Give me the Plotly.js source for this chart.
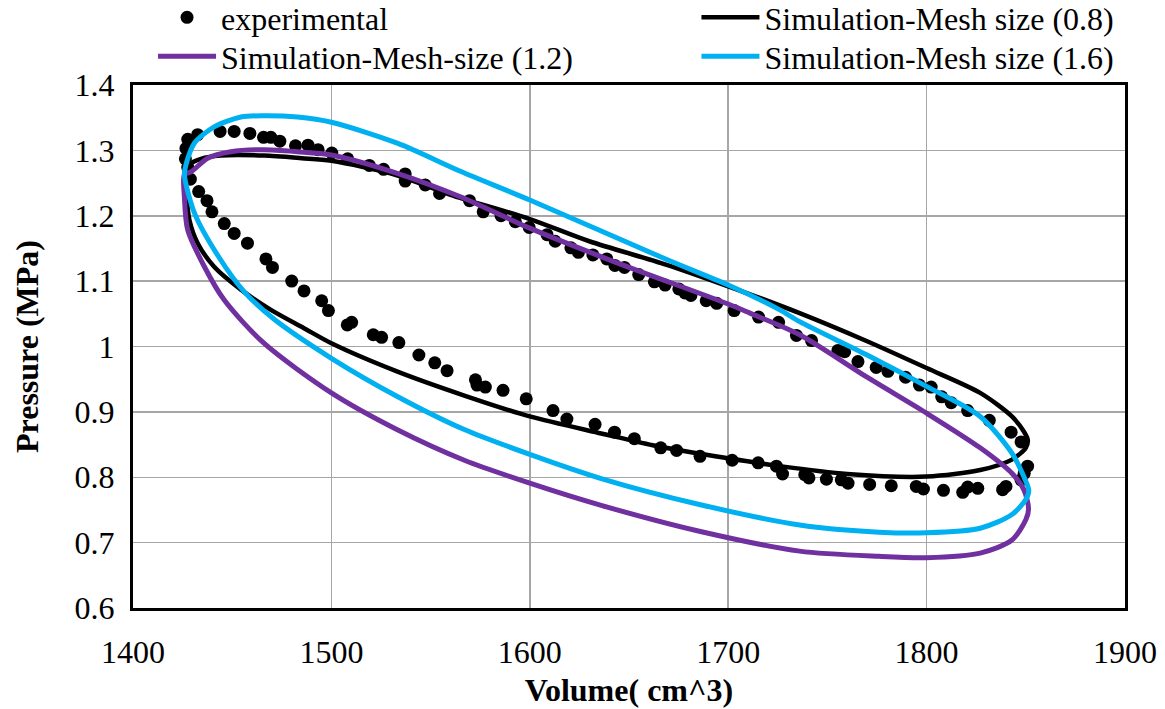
<!DOCTYPE html>
<html>
<head>
<meta charset="utf-8">
<script src="https://cdn.plot.ly/plotly-3.0.1.min.js"></script>
<style>
  html, body { margin: 0; padding: 0; background: #ffffff; }
  #chart { width: 1165px; height: 709px; }
</style>
</head>
<body>
<div id="chart"></div>
<script>
// P-V loop: measured pressure vs. three simulated mesh sizes

// Experimental points (volume cm^3, pressure MPa)
const expVolume = [
  1443.9, 1451.0, 1458.9, 1465.8, 1469.5, 1474.0, 1481.9, 1488.2, 1493.3, 1500.2,
  1508.2, 1519.1, 1526.3, 1537.2, 1537.2, 1547.3, 1554.5, 1569.6, 1576.5, 1585.5,
  1592.7, 1599.7, 1608.7, 1612.8, 1620.7, 1624.5, 1631.8, 1638.8, 1642.9, 1647.7,
  1654.9, 1662.8, 1668.2, 1675.1, 1678.2, 1681.2, 1688.9, 1694.2, 1703.0, 1715.3,
  1725.4, 1734.4, 1742.0, 1755.3, 1758.7, 1765.4, 1774.6, 1780.5, 1789.4, 1796.4,
  1802.3, 1807.6, 1812.4, 1820.7, 1831.6, 1842.6, 1847.6, 1850.9, 1849.2, 1847.6,
  1840.0, 1838.3, 1825.8, 1820.7, 1818.2, 1808.5, 1798.4, 1794.8, 1782.2, 1771.3,
  1760.4, 1757.0, 1749.5, 1740.7, 1738.6, 1727.4, 1724.3, 1715.1, 1702.0, 1685.8,
  1674.0, 1666.0, 1652.7, 1642.7, 1632.9, 1618.7, 1611.7, 1598.2, 1586.5, 1577.6,
  1573.4, 1572.6, 1558.3, 1552.1, 1544.1, 1534.0, 1525.3, 1521.1, 1510.2, 1508.0,
  1498.5, 1495.1, 1486.2, 1480.0, 1470.3, 1467.0, 1457.7, 1451.0, 1446.0, 1439.8,
  1437.3, 1433.1, 1428.9, 1427.6, 1426.4, 1426.7, 1427.6, 1432.6
];
const expPressure = [
  1.329, 1.329, 1.326, 1.320, 1.320, 1.314, 1.307, 1.308, 1.301, 1.296,
  1.287, 1.277, 1.271, 1.264, 1.253, 1.247, 1.234, 1.223, 1.206, 1.200,
  1.191, 1.182, 1.171, 1.161, 1.151, 1.144, 1.140, 1.134, 1.124, 1.121,
  1.110, 1.099, 1.094, 1.088, 1.082, 1.078, 1.070, 1.066, 1.055, 1.045,
  1.037, 1.017, 1.009, 0.994, 0.992, 0.977, 0.968, 0.962, 0.953, 0.941,
  0.938, 0.923, 0.914, 0.902, 0.887, 0.869, 0.854, 0.817, 0.806, 0.796,
  0.786, 0.781, 0.783, 0.785, 0.777, 0.780, 0.782, 0.786, 0.787, 0.789,
  0.791, 0.796, 0.797, 0.799, 0.804, 0.805, 0.817, 0.822, 0.826, 0.832,
  0.841, 0.845, 0.859, 0.869, 0.881, 0.889, 0.902, 0.920, 0.933, 0.938,
  0.941, 0.949, 0.963, 0.975, 0.987, 1.006, 1.014, 1.018, 1.037, 1.033,
  1.055, 1.070, 1.085, 1.100, 1.121, 1.134, 1.158, 1.173, 1.188, 1.206,
  1.223, 1.237, 1.256, 1.274, 1.287, 1.303, 1.317, 1.324
];

// Simulation, mesh size 0.8
const sim08Volume = [
  1425.9, 1428.3, 1434.3, 1444.3, 1466.0, 1485.0, 1500.0, 1533.0, 1560.0, 1600.0,
  1630.0, 1669.0, 1700.0, 1736.0, 1770.0, 1800.0, 1827.0, 1843.0, 1849.0, 1851.0,
  1850.0, 1843.0, 1827.0, 1800.0, 1760.0, 1726.0, 1700.0, 1662.0, 1636.0, 1600.0,
  1567.0, 1533.0, 1500.0, 1486.2, 1469.5, 1454.4, 1440.9, 1432.6, 1428.4, 1426.7,
  1425.9
];
const sim08Pressure = [
  1.263, 1.278, 1.287, 1.292, 1.292, 1.288, 1.284, 1.262, 1.232, 1.195,
  1.161, 1.125, 1.092, 1.051, 1.008, 0.967, 0.929, 0.893, 0.870, 0.857,
  0.845, 0.827, 0.811, 0.801, 0.805, 0.817, 0.829, 0.849, 0.867, 0.893,
  0.925, 0.962, 1.005, 1.028, 1.056, 1.087, 1.122, 1.158, 1.194, 1.240,
  1.263
];

// Simulation, mesh size 1.2
const sim12Volume = [
  1425.9, 1429.2, 1437.6, 1449.3, 1466.0, 1482.9, 1500.0, 1533.2, 1565.0, 1600.0,
  1644.0, 1700.0, 1711.0, 1736.0, 1770.0, 1800.0, 1827.0, 1843.0, 1849.0, 1851.4,
  1850.0, 1843.0, 1827.0, 1800.0, 1776.0, 1736.0, 1686.0, 1636.0, 1600.0, 1567.0,
  1533.0, 1500.0, 1466.0, 1446.0, 1436.0, 1427.6, 1425.9, 1425.9
];
const sim12Pressure = [
  1.263, 1.267, 1.288, 1.298, 1.301, 1.298, 1.293, 1.265, 1.229, 1.181,
  1.128, 1.065, 1.051, 1.018, 0.953, 0.898, 0.845, 0.806, 0.781, 0.752,
  0.735, 0.704, 0.684, 0.677, 0.679, 0.687, 0.717, 0.757, 0.791, 0.826,
  0.873, 0.929, 1.005, 1.071, 1.122, 1.178, 1.229, 1.263
];

// Simulation, mesh size 1.6
const sim16Volume = [
  1425.9, 1426.7, 1430.9, 1440.9, 1454.4, 1466.0, 1482.9, 1500.0, 1533.2, 1565.0,
  1600.0, 1669.0, 1700.0, 1726.0, 1736.0, 1770.0, 1800.0, 1827.0, 1843.0, 1849.0,
  1851.5, 1850.0, 1843.0, 1827.0, 1800.0, 1776.0, 1736.0, 1686.0, 1636.0, 1600.0,
  1567.0, 1533.0, 1500.0, 1471.0, 1456.0, 1443.0, 1431.0, 1425.9
];
const sim16Pressure = [
  1.263, 1.278, 1.311, 1.336, 1.351, 1.353, 1.351, 1.343, 1.311, 1.268,
  1.224, 1.133, 1.094, 1.056, 1.038, 0.987, 0.939, 0.893, 0.837, 0.801,
  0.780, 0.766, 0.743, 0.722, 0.715, 0.716, 0.727, 0.758, 0.798, 0.835,
  0.873, 0.924, 0.982, 1.042, 1.084, 1.138, 1.204, 1.263
];

const xTicks = [1400, 1500, 1600, 1700, 1800, 1900];
const yTicks = [0.6, 0.7, 0.8, 0.9, 1.0, 1.1, 1.2, 1.3, 1.4];

const FONT = 'Liberation Serif, Times New Roman, serif';
const FS = 32;

const traces = [
  {
    x: expVolume, y: expPressure, name: 'experimental',
    type: 'scatter', mode: 'markers', legend: 'legend',
    marker: { color: '#000000', size: 13 }
  },
  {
    x: sim08Volume, y: sim08Pressure, name: 'Simulation-Mesh size (0.8)',
    type: 'scatter', mode: 'lines', legend: 'legend2',
    line: { color: '#000000', width: 4.5, shape: 'spline', smoothing: 0.8 }
  },
  {
    x: sim12Volume, y: sim12Pressure, name: 'Simulation-Mesh-size (1.2)',
    type: 'scatter', mode: 'lines', legend: 'legend3',
    line: { color: '#7030a0', width: 5, shape: 'spline', smoothing: 0.8 }
  },
  {
    x: sim16Volume, y: sim16Pressure, name: 'Simulation-Mesh size (1.6)',
    type: 'scatter', mode: 'lines', legend: 'legend4',
    line: { color: '#00b0f0', width: 5, shape: 'spline', smoothing: 0.8 }
  }
];

// one legend box per entry, laid out as a 2x2 grid above the plot
const legendBase = {
  orientation: 'v',
  yanchor: 'top',
  xanchor: 'left',
  itemwidth: 58,
  font: { family: FONT, size: FS, color: '#000000' },
  bgcolor: 'rgba(0,0,0,0)',
  borderwidth: 0
};
const colLeft = 0.0202, colRight = 0.568;
const rowTop = 1.1816, rowBottom = 1.1071;

const layout = {
  width: 1165, height: 709,
  paper_bgcolor: '#ffffff', plot_bgcolor: '#ffffff',
  margin: { l: 133, r: 40, t: 85, b: 101, autoexpand: false },
  font: { family: FONT, size: FS, color: '#000000' },
  showlegend: true,
  legend:  Object.assign({}, legendBase, { x: colLeft,  y: rowTop }),
  legend2: Object.assign({}, legendBase, { x: colRight, y: rowTop }),
  legend3: Object.assign({}, legendBase, { x: colLeft,  y: rowBottom }),
  legend4: Object.assign({}, legendBase, { x: colRight, y: rowBottom }),
  xaxis: {
    range: [1400, 1900],
    tickvals: xTicks,
    ticktext: xTicks.map(String),
    showgrid: true, gridcolor: '#a6a6a6', gridwidth: 1.5,
    zeroline: false,
    showline: true, mirror: true, linecolor: '#000000', linewidth: 3,
    ticks: '', ticklabelstandoff: 14,
    tickfont: { family: FONT, size: FS },
    title: { text: '<b>Volume( cm^3)</b>', font: { family: FONT, size: FS }, standoff: 10 }
  },
  yaxis: {
    range: [0.6, 1.4],
    tickvals: yTicks,
    ticktext: yTicks.map(v => (Math.round(v * 10) / 10).toString()),
    showgrid: true, gridcolor: '#a6a6a6', gridwidth: 1.5,
    zeroline: false,
    showline: true, mirror: true, linecolor: '#000000', linewidth: 3,
    ticks: '', ticklabelstandoff: 9,
    tickfont: { family: FONT, size: FS },
    title: { text: '<b>Pressure (MPa)</b>', font: { family: FONT, size: FS }, standoff: 27 }
  }
};

Plotly.newPlot('chart', traces, layout, { displayModeBar: false, staticPlot: true });
</script>
</body>
</html>
